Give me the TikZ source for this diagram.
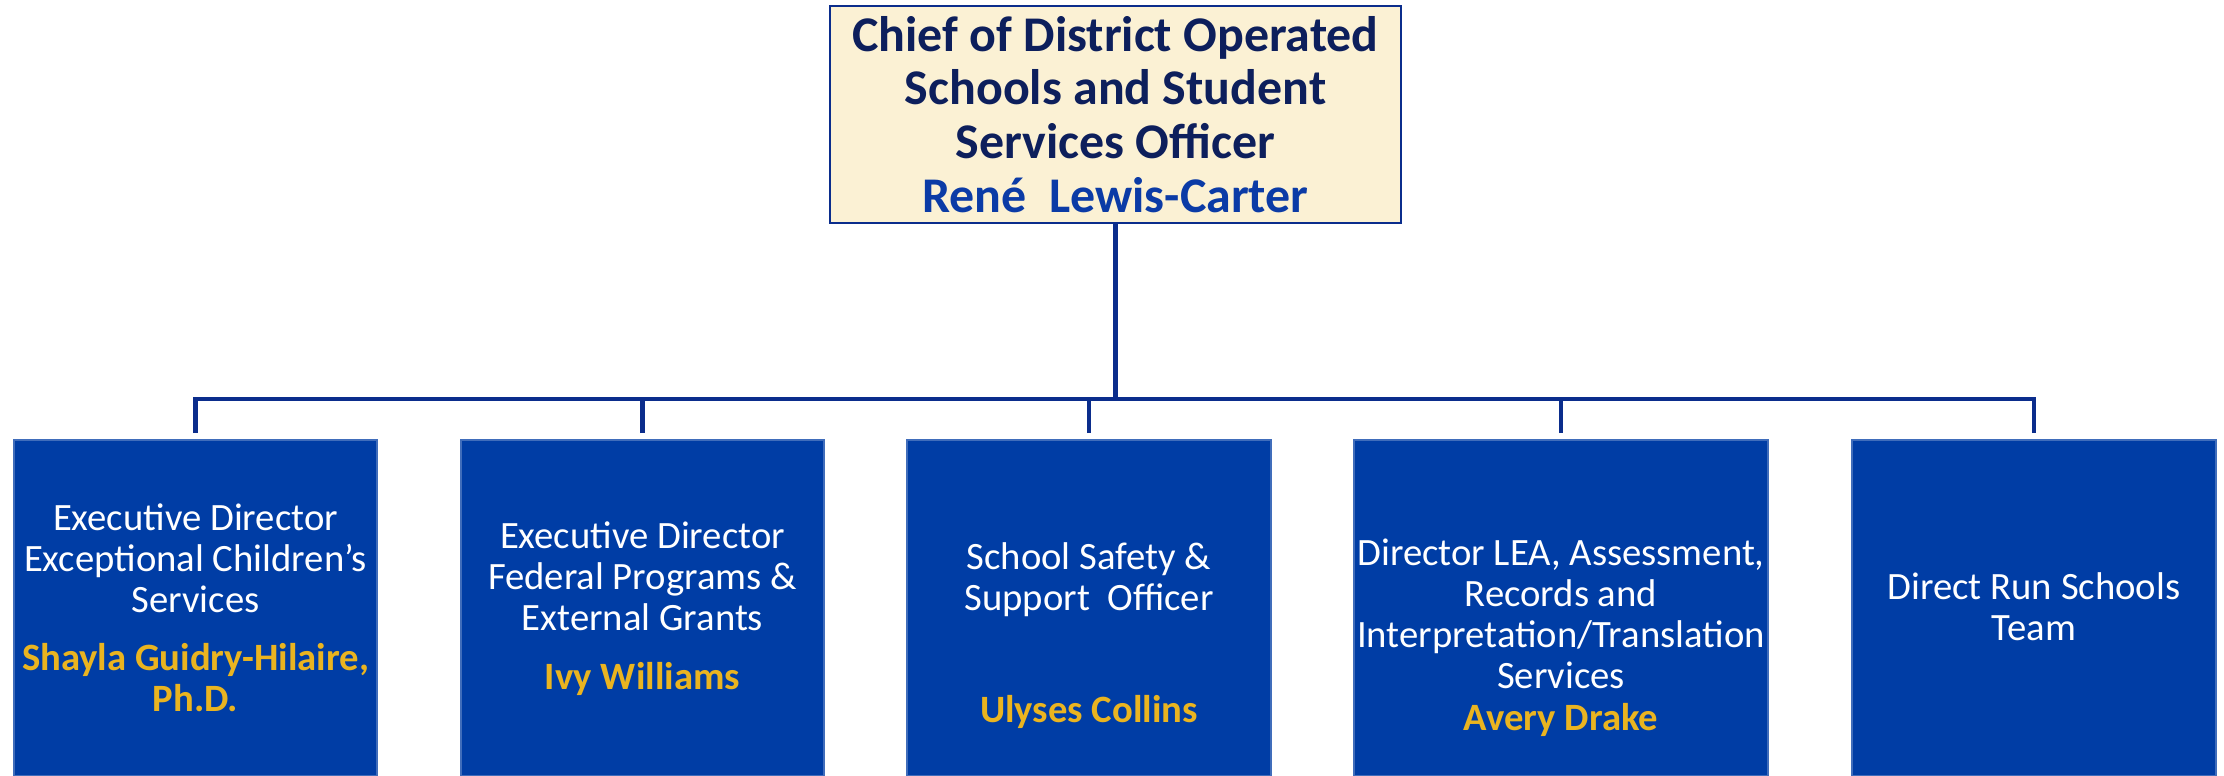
\documentclass[tikz,border=0pt]{standalone}
\usepackage{fontspec}
\setmainfont{Carlito}
\usepackage{xcolor}
\usepackage{tikz}
\usetikzlibrary{positioning,calc}

\definecolor{unitblue}{HTML}{003DA5}
\definecolor{linkblue}{HTML}{0B2D8C}
\definecolor{chiefcream}{HTML}{FBF1D4}
\definecolor{chiefnavy}{HTML}{0D1F5C}
\definecolor{chiefname}{HTML}{0B3BA6}
\definecolor{namegold}{HTML}{EAB420}

\tikzset{
  chiefbox/.style={draw=linkblue, line width=0.6pt, fill=chiefcream, minimum width=5.71cm, minimum height=2.17cm, inner sep=1pt, align=center, text=chiefnavy, font=\fontsize{14.2}{15.3}\selectfont\bfseries},
  unitbox/.style={draw=unitblue!75!white, line width=0.4pt, fill=unitblue, minimum height=3.36cm, inner sep=0pt},
  unittext/.style={text=white, align=center, inner sep=0pt, font=\fontsize{11}{11.7}\selectfont},
  link/.style={draw=linkblue, line width=1.4pt},
}
\newcommand{\unitname}[1]{\textcolor{namegold}{\bfseries #1}}

\begin{document}
\begin{tikzpicture}[x=0.01cm, y=-0.01cm]
    \useasboundingbox (0,0) rectangle (2224,775);
    % Chief
    \node[chiefbox] (chief) at (1115.5,114.5) {Chief of District Operated\\Schools and Student\\Services Officer\\\textcolor{chiefname}{René~~Lewis-Carter}};
    % Units
    \node[unitbox, minimum width=3.63cm] (ecs) at (195.5,608) {};
    \node[unitbox, minimum width=3.63cm] (fed) at (642.5,608) {};
    \node[unitbox, minimum width=3.64cm] (safety) at (1089,608) {};
    \node[unitbox, minimum width=4.14cm] (lea) at (1561,608) {};
    \node[unitbox, minimum width=3.64cm] (direct) at (2034,608) {};
    % Unit texts
    \node[unittext] (ecstext) at (195.5,608) {Executive Director\\Exceptional Children's\\Services\\[4.8pt]\unitname{Shayla Guidry-Hilaire,}\\\unitname{Ph.D.}};
    \node[unittext] (fedtext) at (642.5,608.5) {Executive Director\\Federal Programs \&\\External Grants\\[4.8pt]\unitname{Ivy Williams}};
    \node[unittext] (safetytext) at (1089,635.5) {School Safety \&\\Support~~Officer\\[20pt]\unitname{Ulyses Collins}};
    \node[unittext] (leatext) at (1561,637.5) {Director LEA, Assessment,\\Records and\\Interpretation/Translation\\Services\\\unitname{Avery Drake}};
    \node[unittext] (directtext) at (2034,606.5) {Direct Run Schools\\Team};
    % Links
    \coordinate (bus) at (1115.5,399);
    \draw[link] (chief.south) -- (bus);
    \draw[link, shorten <=0.06cm] (ecs.north) |- (bus);
    \draw[link, shorten <=0.06cm] (direct.north) |- (bus);
    \foreach \u in {fed,safety,lea}
        \draw[link, shorten <=0.06cm] (\u.north) -- (\u.north |- bus);
\end{tikzpicture}
\end{document}
